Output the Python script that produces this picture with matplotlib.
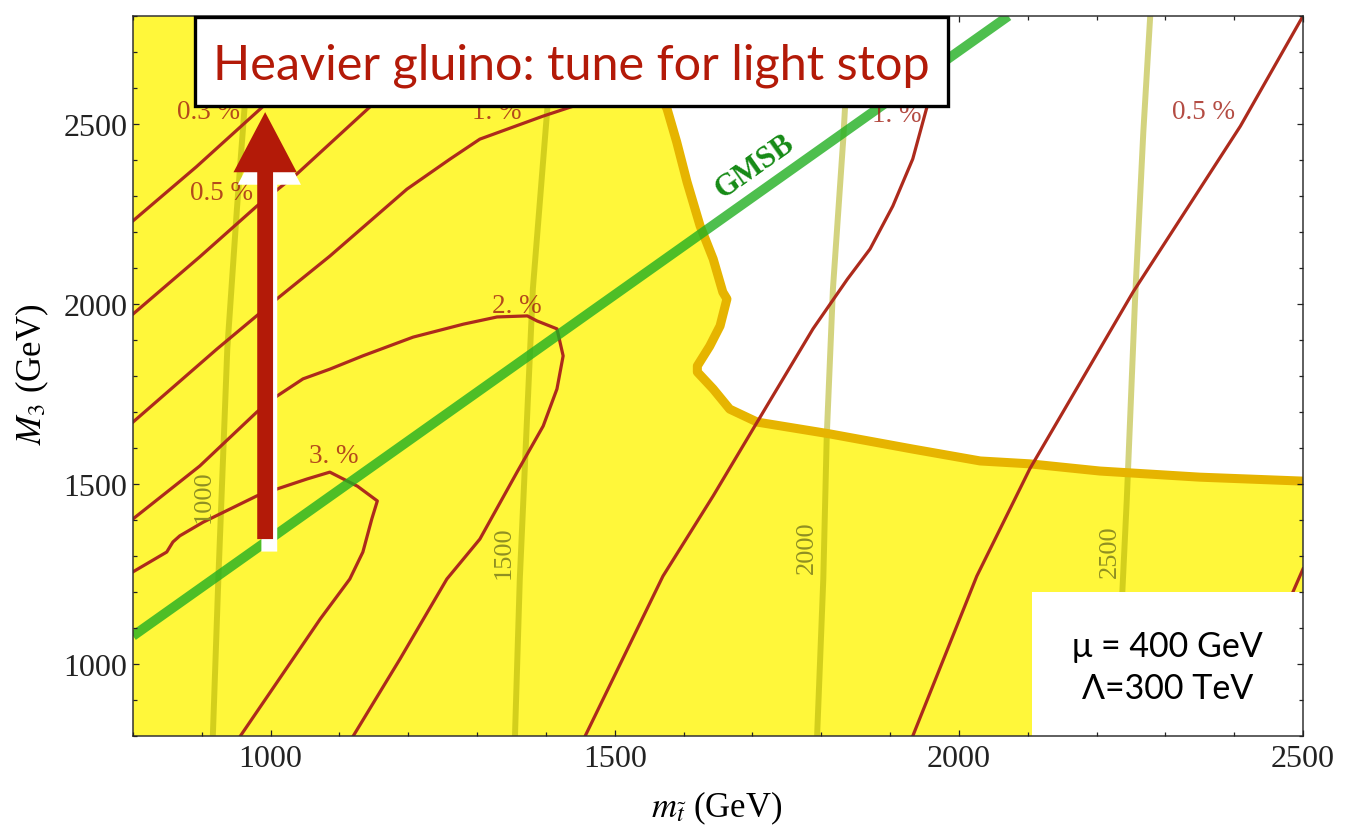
import matplotlib
matplotlib.use("Agg")
import matplotlib.pyplot as plt
import matplotlib.patheffects as pe
from matplotlib.patches import Rectangle, FancyArrow
from matplotlib.ticker import FixedLocator, MultipleLocator

plt.rcParams["font.family"] = ["Liberation Serif", "DejaVu Serif"]
plt.rcParams["mathtext.fontset"] = "stix"

# ---------------------------------------------------------------------------
# Plane: stop mass vs gluino mass (GeV)
X_RANGE = (800, 2500)
Y_RANGE = (800, 2800)
x_major = [1000, 1500, 2000, 2500]
y_major = [1000, 1500, 2000, 2500]

# Boundary of the allowed (white) region
bound_x = [1508, 1537, 1576, 1590, 1605, 1624, 1643, 1657, 1663, 1653, 1638,
           1620, 1620, 1643, 1667, 1707, 1813, 1933, 2031, 2103, 2205, 2350, 2500]
bound_y = [2800, 2694, 2542, 2450, 2339, 2217, 2125, 2033, 2014, 1939, 1883,
           1828, 1811, 1764, 1708, 1672, 1639, 1597, 1564, 1556, 1536, 1519, 1508]

# Fine-tuning contours (percent)
ft03_x = [800, 892, 985, 1133]
ft03_y = [2231, 2381, 2542, 2800]

ft05_x = [800, 897, 980, 1038, 1144, 1309]
ft05_y = [1972, 2131, 2272, 2361, 2547, 2800]

ft1_x = [800, 922, 1009, 1086, 1198, 1261, 1304, 1396, 1450, 1551, 1697, 1842,
         1922, 1954, 1933, 1904, 1871, 1838, 1788, 1721, 1701, 1643, 1570, 1457]
ft1_y = [1672, 1875, 2014, 2133, 2319, 2403, 2458, 2522, 2556, 2619, 2681, 2672,
         2625, 2550, 2403, 2272, 2153, 2069, 1931, 1717, 1653, 1467, 1244, 800]

ft2_x = [800, 897, 980, 1009, 1047, 1086, 1134, 1207, 1280, 1329, 1373, 1387,
         1416, 1425, 1416, 1396, 1358, 1304, 1256, 1188, 1120]
ft2_y = [1403, 1550, 1700, 1744, 1792, 1819, 1856, 1908, 1944, 1964, 1967, 1953,
         1931, 1856, 1764, 1661, 1533, 1347, 1236, 1014, 800]

ft3_x = [800, 849, 858, 868, 902, 980, 1009, 1053, 1086, 1126, 1155, 1147,
         1134, 1115, 1072, 956]
ft3_y = [1256, 1311, 1339, 1356, 1394, 1467, 1486, 1514, 1533, 1494, 1453, 1403,
         1311, 1236, 1125, 800]

ft05b_x = [1933, 2026, 2103, 2253, 2409, 2500]
ft05b_y = [800, 1244, 1542, 2033, 2494, 2800]

ft03b_x = [2500, 2481, 2438, 2409]
ft03b_y = [1264, 1181, 1014, 800]

ft_curves = [(ft03_x, ft03_y), (ft05_x, ft05_y), (ft1_x, ft1_y), (ft2_x, ft2_y),
             (ft3_x, ft3_y), (ft05b_x, ft05b_y), (ft03b_x, ft03b_y)]

ft_labels = ["0.3 %", "0.5 %", "1. %", "2. %", "3. %", "1. %", "0.5 %"]
ft_label_x = [909, 928, 1328, 1358, 1091, 1910, 2356]
ft_label_y = [2536, 2311, 2534, 1997, 1578, 2526, 2536]

# Contours of constant mass (GeV)
mass_levels = ["1000", "1500", "2000", "2500"]
m1000_x = [916, 924, 937, 951, 963, 982]
m1000_y = [800, 1236, 1875, 2264, 2569, 2800]
m1500_x = [1355, 1362, 1381, 1402, 1409]
m1500_y = [800, 1236, 2042, 2542, 2800]
m2000_x = [1794, 1803, 1808, 1817, 1832, 1842]
m2000_y = [800, 1236, 1633, 2042, 2458, 2800]
m2500_x = [2231, 2237, 2244, 2256, 2268, 2278]
m2500_y = [800, 1181, 1458, 2014, 2478, 2800]
mass_curves = [(m1000_x, m1000_y), (m1500_x, m1500_y),
               (m2000_x, m2000_y), (m2500_x, m2500_y)]
mass_label_x = [902, 1338, 1779, 2220]
mass_label_y = [1467, 1311, 1325, 1314]

# GMSB relation
gmsb_x = [800, 2072]
gmsb_y = [1078, 2800]

# ---------------------------------------------------------------------------
YELLOW = "#fff73a"
RED = "#ad2a1c"
ORANGE = "#e6b400"
OLIVE = (169 / 255, 169 / 255, 0.0)
GREEN = "#22b022"
DARKRED = "#b31a08"
SANS = ["Lato", "DejaVu Sans"]

W, H = 1347, 829
fig = plt.figure(figsize=(W / 100, H / 100), dpi=100)
ax = fig.add_axes([133 / W, 1 - 737 / H, 1170 / W, 720 / H])
ax.set_xlim(*X_RANGE)
ax.set_ylim(*Y_RANGE)
ax.set_facecolor(YELLOW)

# allowed region
ax.fill(bound_x + [X_RANGE[1]], bound_y + [Y_RANGE[1]], color="white", lw=0, zorder=1)

for (mx, my) in mass_curves:
    ax.plot(mx, my, color=OLIVE, alpha=0.5, lw=4.3, solid_capstyle="butt", zorder=2)
for lab, lx, ly in zip(mass_levels, mass_label_x, mass_label_y):
    ax.text(lx, ly, lab, rotation=90, ha="center", va="center", fontsize=19,
            color="#8f8f22", zorder=6)

ax.plot(bound_x, bound_y, color=ORANGE, lw=6.5, solid_joinstyle="round", zorder=3)

for (cx, cy) in ft_curves:
    ax.plot(cx, cy, color=RED, lw=2.3, solid_joinstyle="round", zorder=4)
for lab, lx, ly in zip(ft_labels, ft_label_x, ft_label_y):
    ax.text(lx, ly, lab, ha="center", va="center", fontsize=19.5,
            color=(0.63, 0.12, 0.08), alpha=0.8, zorder=6)

ax.plot(gmsb_x, gmsb_y, color=GREEN, alpha=0.8, lw=7, solid_capstyle="butt", zorder=5)
ax.text(1704, 2383, "GMSB", rotation=35.3, ha="center", va="center",
        fontsize=22, fontweight="bold", color="#158a15", zorder=6,
        rotation_mode="anchor")

# arrow towards heavier gluino
arrow = FancyArrow(992, 1347, 0, 2533 - 1347, width=23, head_width=92,
                   head_length=167, length_includes_head=True,
                   color=DARKRED, lw=0, zorder=7)
arrow.set_path_effects([pe.SimplePatchShadow(offset=(3, -9), shadow_rgbFace="white",
                                             alpha=1.0), pe.Normal()])
ax.add_patch(arrow)

# parameter box
ax.add_patch(Rectangle((2106, 800), 394, 400, facecolor="white", edgecolor="none",
                       zorder=8))
ax.text(0.884, 0.125, "μ = 400 GeV", transform=ax.transAxes, ha="center",
        va="center", fontsize=24.5, family=SANS, zorder=9)
ax.text(0.884, 0.066, "Λ=300 TeV", transform=ax.transAxes, ha="center",
        va="center", fontsize=24.5, family=SANS, zorder=9)

# frame and ticks
ax.xaxis.set_major_locator(FixedLocator(x_major))
ax.yaxis.set_major_locator(FixedLocator(y_major))
ax.xaxis.set_minor_locator(MultipleLocator(100))
ax.yaxis.set_minor_locator(MultipleLocator(100))
ax.tick_params(which="both", direction="in", top=True, right=True,
               colors="#222222", width=0.9)
ax.tick_params(which="major", length=4, labelsize=23)
ax.tick_params(which="minor", length=2.6)
ax.tick_params(axis="x", pad=6)
ax.tick_params(axis="y", pad=4)
for s in ax.spines.values():
    s.set_color("#333333")
    s.set_linewidth(1.1)
    s.set_zorder(10)
ax.xaxis.set_zorder(10)
ax.yaxis.set_zorder(10)

ax.set_xlabel(r"$m_{\tilde{t}}$ (GeV)", fontsize=25)
ax.set_ylabel(r"$M_3$ (GeV)", fontsize=25)
ax.xaxis.set_label_coords(0.499, -0.0986)
ax.xaxis.label.set_va("center")
ax.yaxis.set_label_coords(-0.0863, 0.503)
ax.yaxis.label.set_va("center")

# headline box
fig.add_artist(Rectangle((195 / W, 1 - 107 / H), 753 / W, 89 / H, transform=fig.transFigure,
                         facecolor="white", edgecolor="black", lw=2.4, zorder=20))
fig.text(571 / W, 1 - 80 / H, "Heavier gluino: tune for light stop", ha="center",
         va="baseline", fontsize=35, color=DARKRED, family=SANS, zorder=21)

fig.savefig("out.png", dpi=100)
